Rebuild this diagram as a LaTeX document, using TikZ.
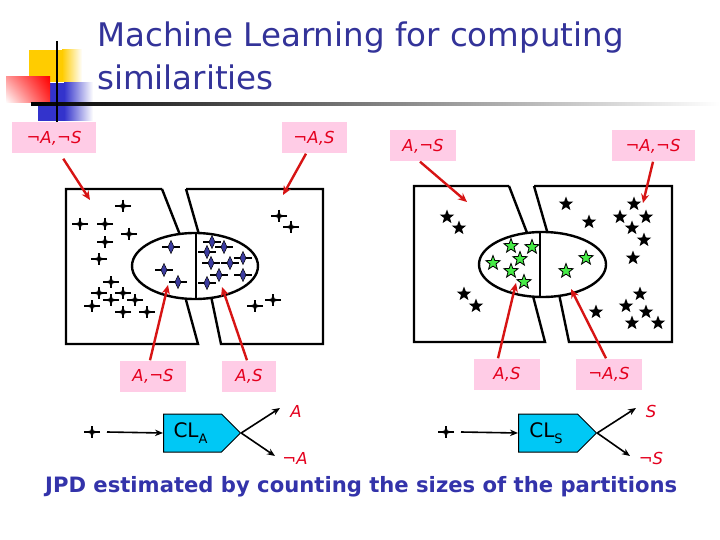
\documentclass[tikz,border=0pt]{standalone}
\usepackage{fontspec}
\setmainfont{DejaVu Sans}
\usetikzlibrary{shapes.geometric,shapes.symbols,arrows.meta,calc,shadings}
\definecolor{tblue}{RGB}{51,51,153}
\definecolor{bblue}{RGB}{51,51,170}
\definecolor{lred}{RGB}{228,0,30}
\definecolor{ared}{RGB}{215,20,20}
\definecolor{lpink}{RGB}{255,204,230}
\definecolor{sgreen}{RGB}{70,235,70}
\definecolor{ccyan}{RGB}{0,200,245}
\definecolor{cblue}{RGB}{60,60,160}
\definecolor{ycol}{RGB}{255,204,0}
\definecolor{dblue}{RGB}{51,51,204}
\tikzset{
  lbl/.style={fill=lpink, text=lred, font=\fontsize{16.5}{18}\selectfont\itshape, inner sep=0pt, minimum height=31pt},
  olbl/.style={text=lred, font=\fontsize{16.5}{18}\selectfont\itshape, inner sep=1pt},
  redarr/.style={draw=ared, line width=2.4pt, -{Stealth[length=9pt,width=8pt]}},
  blkarr/.style={line width=1.6pt, -{Stealth[length=8pt,width=6.5pt]}},
  panel/.style={line width=2.4pt, line join=miter},
  bstar/.style={star, star points=5, star point ratio=2.4, fill=black, minimum size=15pt, inner sep=0pt},
  gstar/.style={star, star points=5, star point ratio=2.4, fill=sgreen, draw=black, line width=0.8pt, minimum size=15pt, inner sep=0pt},
  clbox/.style={signal, signal to=east, signal pointer angle=90, fill=ccyan, draw=black, line width=1pt, minimum height=38pt, inner sep=0pt, font=\fontsize{20}{20}\selectfont},
  kcross/.pic={
    \fill (-8,0) -- (-1.6,-1.4) -- (0,-6) -- (1.6,-1.4) -- (8,0) -- (1.6,1.4) -- (0,6) -- (-1.6,1.4) -- cycle;
    \draw[line width=1.2pt] (-8,0) -- (8,0) (0,-6) -- (0,6);
  },
  bcross/.pic={
    \draw[line width=1.2pt] (-9,0) -- (9,0);
    \filldraw[fill=cblue, draw=black, line width=0.5pt] (-3,0) -- (0,-6.5) -- (3,0) -- (0,6.5) -- cycle;
  },
  ttl/.style={anchor=base west, inner sep=0pt, text=tblue, font=\fontsize{32.5}{40}\selectfont}
}
\begin{document}
\begin{tikzpicture}[x=1pt,y=-1pt]
\useasboundingbox (0,0) rectangle (720,540);
\fill[white] (0,0) rectangle (720,540);

% --- title decoration ---
\fill[ycol] (29,50) rectangle (62,82);
\shade[left color=ycol, right color=white] (62,50) rectangle (82,82);
\fill[dblue] (38,83) rectangle (64,121);
\shade[left color=dblue, right color=white] (64,83) rectangle (93,121);
\shade[upper right=red, lower right=red!80!white, upper left=red!40!white, lower left=white] (6,77) rectangle (50,103);
\shade[left color=black, right color=white] (31,102.5) rectangle (720,105.5);
\draw[line width=2pt] (57,41) -- (57,124);

% --- title ---
\node[ttl] (t1) at (97,47) {Machine Learning for computing};
\node[ttl] (t2) at (97,90) {similarities};

% --- left panel ---
\draw[panel] (162,189) -- (66,189) -- (66,344) -- (198,344) -- (186,300);
\draw[panel] (162,189) -- (182,240);
\draw[panel] (186,189) -- (323,189) -- (323,344) -- (221,344) -- (211,296);
\draw[panel] (186,189) -- (200,238);
\draw[panel, fill=white] (195,266) ellipse [x radius=63, y radius=33];
\draw[panel] (196,233) -- (196,299);
\foreach \p in {(123,206),(80,224),(105,224),(129,234),(105,242),(99,259),(111,282),(99,293),(123,293),(111,300),(135,300),(92,306),(123,312),(147,312),(279,216),(291,227),(255,306),(273,300)}
  \pic at \p {kcross};
\foreach \p in {(171,247),(164,270),(178,282),(212,242),(224,247),(207,252),(211,263),(230,263),(243,258),(219,275),(243,275),(207,283)}
  \pic at \p {bcross};

% --- right panel ---
\draw[panel] (509,186) -- (414,186) -- (414,342) -- (545,342) -- (533,296);
\draw[panel] (509,186) -- (529,238);
\draw[panel] (534,186) -- (672,186) -- (672,342) -- (569,342) -- (559,294);
\draw[panel] (534,186) -- (549,238);
\draw[panel, fill=white] (542.5,264.5) ellipse [x radius=63.5, y radius=32.5];
\draw[panel] (540,233) -- (540,297);
\foreach \p [count=\i] in {(447,217),(459,228),(566,204),(589,222),(634,204),(620,217),(646,217),(632,228),(644,240),(633,258),(464,294),(476,306),(640,294),(626,306),(646,312),(596,312),(632,323),(658,323)}
  \node[bstar] (bs\i) at \p {};
\foreach \p [count=\i] in {(511,246),(532,247),(520,259),(493,263),(511,271),(524,282),(566,271),(586,258)}
  \node[gstar] (gs\i) at \p {};

% --- labels ---
\node[lbl, minimum width=84pt] (l1) at (54,138) {¬A,¬S};
\node[lbl, minimum width=65pt] (l2) at (314,138) {¬A,S};
\node[lbl, minimum width=66pt] (l3) at (423,146) {A,¬S};
\node[lbl, minimum width=83pt] (l4) at (653,146) {¬A,¬S};
\node[lbl, minimum width=66pt] (l5) at (153,376) {A,¬S};
\node[lbl, minimum width=54pt] (l6) at (249,376) {A,S};
\node[lbl, minimum width=66pt] (l7) at (507,374) {A,S};
\node[lbl, minimum width=66pt] (l8) at (609,374) {¬A,S};

\coordinate (p1) at (90,200);
\coordinate (p2) at (283,195);
\coordinate (p3) at (467,202);
\coordinate (p4) at (643,203);
\coordinate (p5) at (168,285);
\coordinate (p6) at (222,287);
\coordinate (p7) at (516,283);
\coordinate (p8) at (571,289);
\draw[redarr, shorten <=6pt] ([xshift=6pt]l1.south) -- (p1);
\draw[redarr] ([xshift=-8pt]l2.south) -- (p2);
\draw[redarr] ([xshift=-3pt]l3.south) -- (p3);
\draw[redarr] (l4.south) -- (p4);
\draw[redarr] ([xshift=-3pt]l5.north) -- (p5);
\draw[redarr] ([xshift=-2pt]l6.north) -- (p6);
\draw[redarr] ([xshift=-9pt]l7.north) -- (p7);
\draw[redarr] ([xshift=-3pt]l8.north) -- (p8);

% --- classifiers ---
\pic at (92,432) {kcross};
\coordinate (ina) at (107,432);
\node[clbox, minimum width=77pt] (cla) at (192.5,433) {\hspace*{-4pt}CL\raisebox{-6pt}{\fontsize{13}{13}\selectfont A}};
\draw[blkarr] (ina) -- (cla.west);
\coordinate (oa1) at (280,408);
\coordinate (oa2) at (275,456);
\draw[blkarr] (cla.east) -- (oa1);
\draw[blkarr] (cla.east) -- (oa2);
\node[olbl] (ya) at (296,411) {A};
\node[olbl] (na) at (295,458) {¬A};

\pic at (446,432) {kcross};
\coordinate (ins) at (461,432);
\node[clbox, minimum width=78pt] (cls) at (548,433) {\hspace*{-4pt}CL\raisebox{-6pt}{\fontsize{13}{13}\selectfont S}};
\draw[blkarr] (ins) -- (cls.west);
\coordinate (os1) at (636,408);
\coordinate (os2) at (630,456);
\draw[blkarr] (cls.east) -- (os1);
\draw[blkarr] (cls.east) -- (os2);
\node[olbl] (ys) at (651,411) {S};
\node[olbl] (ns) at (651,458) {¬S};

% --- bottom text ---
\node[anchor=base west, inner sep=0pt, text=bblue] (bt) at (45,492) {\resizebox{632pt}{!}{\bfseries JPD estimated by counting the sizes of the partitions}};
\end{tikzpicture}
\end{document}
